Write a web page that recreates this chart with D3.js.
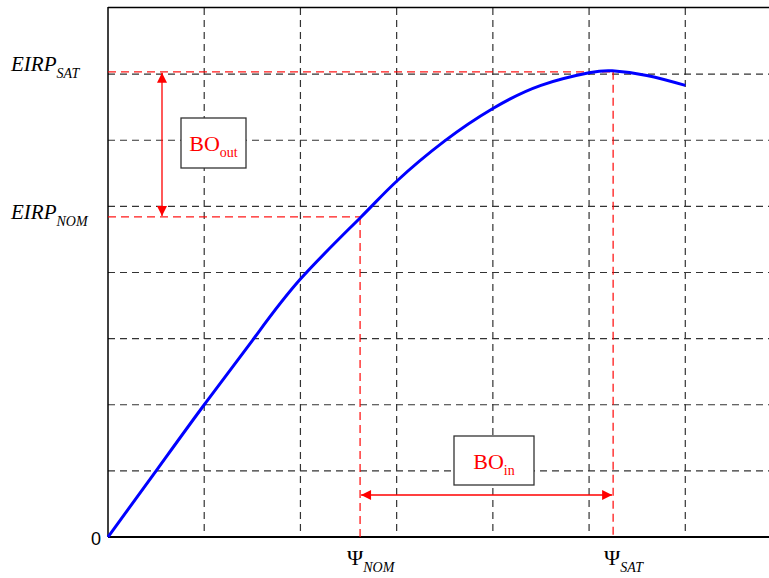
<!DOCTYPE html>
<html><head><meta charset="utf-8">
<script src="https://cdn.jsdelivr.net/npm/d3@7"></script>
<style>html,body{margin:0;padding:0;background:#fff;}svg{display:block;}</style>
</head><body>
<script>
// Data (input drive level vs output EIRP, in grid units)
const psi  = [0, 0.5, 1.0, 1.5, 2.0, 2.63, 3.0, 3.5, 4.0, 4.5, 5.0, 5.24, 5.6, 6.0];
const eirp = [0, 1.0, 2.0, 2.97, 3.9, 4.84, 5.38, 5.99, 6.48, 6.83, 7.02, 7.05, 6.98, 6.83];
const xGrid = [1, 2, 3, 4, 5, 6];
const yGrid = [1, 2, 3, 4, 5, 6, 7];
const psiNom = 2.62, psiSat = 5.25;
const eirpNom = 4.84, eirpSat = 7.035;

const W = 769, H = 578;
const svg = d3.select("body").append("svg").attr("width", W).attr("height", H);
const x = d3.scaleLinear().domain([0, 6.87]).range([108, 769]);
const y = d3.scaleLinear().domain([0, 8]).range([537, 8]);

// grid
const g = svg.append("g");
g.selectAll(".vg").data(xGrid).join("line")
  .attr("x1", d => x(d)).attr("x2", d => x(d)).attr("y1", y(8)).attr("y2", y(0))
  .attr("stroke", "#333").attr("stroke-width", 1.2).attr("stroke-dasharray", "7,5");
g.selectAll(".hg").data(yGrid).join("line")
  .attr("x1", x(0)).attr("x2", W).attr("y1", d => y(d)).attr("y2", d => y(d))
  .attr("stroke", "#333").attr("stroke-width", 1.2).attr("stroke-dasharray", "7,5");

// frame
svg.append("line").attr("x1", x(0)).attr("x2", W).attr("y1", 7.5).attr("y2", 7.5)
  .attr("stroke", "#000").attr("stroke-width", 1.5);
svg.append("line").attr("x1", x(0)).attr("x2", x(0)).attr("y1", 7).attr("y2", y(0))
  .attr("stroke", "#000").attr("stroke-width", 1.5);
svg.append("line").attr("x1", x(0)).attr("x2", W).attr("y1", y(0)).attr("y2", y(0))
  .attr("stroke", "#000").attr("stroke-width", 2.2);

// red dashed reference lines
const red = "#ff0000";
const rd = svg.append("g").attr("stroke", red).attr("stroke-width", 1.3).attr("stroke-dasharray", "8,5").attr("opacity", 0.9);
rd.append("line").attr("x1", x(0)).attr("x2", x(psiSat)).attr("y1", y(eirpSat)).attr("y2", y(eirpSat));
rd.append("line").attr("x1", x(psiSat)).attr("x2", x(psiSat)).attr("y1", y(eirpSat)).attr("y2", y(0));
rd.append("line").attr("x1", x(0)).attr("x2", x(psiNom)).attr("y1", y(eirpNom)).attr("y2", y(eirpNom));
rd.append("line").attr("x1", x(psiNom)).attr("x2", x(psiNom)).attr("y1", y(eirpNom)).attr("y2", y(0));

// curve
const line = d3.line().x((d, i) => x(psi[i])).y((d, i) => y(eirp[i])).curve(d3.curveNatural);
svg.append("path").attr("d", line(psi)).attr("fill", "none")
  .attr("stroke", "#0000ff").attr("stroke-width", 3);

// arrows
const defs = svg.append("defs");
defs.append("marker").attr("id", "ah").attr("viewBox", "0 0 10 10")
  .attr("refX", 10).attr("refY", 5).attr("markerWidth", 12).attr("markerHeight", 10)
  .attr("markerUnits", "userSpaceOnUse").attr("orient", "auto-start-reverse")
  .append("path").attr("d", "M0,0 L10,5 L0,10 z").attr("fill", red);
svg.append("line").attr("x1", 162).attr("x2", 162).attr("y1", y(eirpSat) + 1).attr("y2", y(eirpNom) - 1)
  .attr("stroke", red).attr("stroke-width", 1.3)
  .attr("marker-start", "url(#ah)").attr("marker-end", "url(#ah)");
svg.append("line").attr("x1", x(psiNom) + 1).attr("x2", x(psiSat) - 1).attr("y1", 495).attr("y2", 495)
  .attr("stroke", red).attr("stroke-width", 1.3)
  .attr("marker-start", "url(#ah)").attr("marker-end", "url(#ah)");

// boxes
function box(x0, y0, w, h, main, sub) {
  svg.append("rect").attr("x", x0).attr("y", y0).attr("width", w).attr("height", h)
    .attr("fill", "#fff").attr("stroke", "#333").attr("stroke-width", 1.3);
  const t = svg.append("text").attr("x", x0 + w / 2).attr("y", y0 + h / 2 + 8)
    .attr("text-anchor", "middle").attr("fill", red)
    .attr("font-family", "'Liberation Serif','Times New Roman',serif").attr("font-size", 22);
  t.append("tspan").text(main);
  t.append("tspan").attr("font-size", 14).attr("dy", 6).text(sub);
}
box(181, 118, 65, 50, "BO", "out");
box(454, 436, 80, 49, "BO", "in");

// labels
const serif = "'Liberation Serif','Times New Roman',serif";
function label(xp, yp, main, sub, mainItalic, mainSize) {
  const t = svg.append("text").attr("x", xp).attr("y", yp).attr("fill", "#000")
    .attr("font-family", serif).attr("font-size", mainSize);
  t.append("tspan").attr("font-style", mainItalic ? "italic" : "normal").text(main);
  t.append("tspan").attr("font-style", "italic").attr("font-size", 14).attr("dy", 7).text(sub);
}
label(11, 71, "EIRP", "SAT", true, 21);
label(11, 219, "EIRP", "NOM", true, 21);
label(347, 565, "Ψ", "NOM", false, 22);
label(604, 565, "Ψ", "SAT", false, 22);
svg.append("text").attr("x", 96).attr("y", 545).attr("text-anchor", "middle")
  .attr("font-family", "'Liberation Sans',Arial,sans-serif").attr("font-size", 18).text("0");
</script>
</body></html>
